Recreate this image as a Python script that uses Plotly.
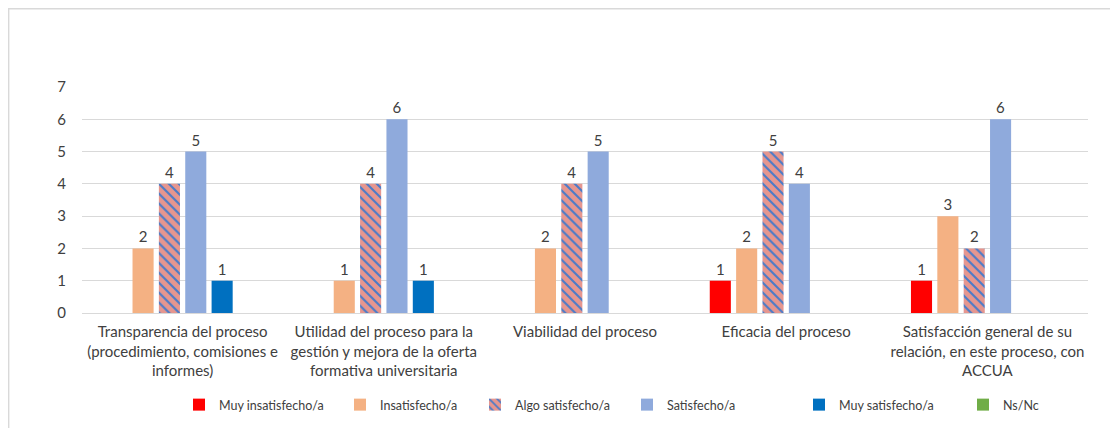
import plotly.graph_objects as go

categories = [
    "Transparencia del proceso<br>(procedimiento, comisiones e<br>informes)",
    "Utilidad del proceso para la<br>gestión y mejora de la oferta<br>formativa universitaria",
    "Viabilidad del proceso",
    "Eficacia del proceso",
    "Satisfacción general de su<br>relación, en este proceso, con<br>ACCUA",
]
series_names = ["Muy insatisfecho/a", "Insatisfecho/a", "Algo satisfecho/a",
                "Satisfecho/a", "Muy satisfecho/a", "Ns/Nc"]
muy_insatisfecho = [0, 0, 0, 1, 1]
insatisfecho = [2, 1, 2, 2, 3]
algo_satisfecho = [4, 4, 4, 5, 2]
satisfecho = [5, 6, 5, 4, 6]
muy_satisfecho = [1, 1, 0, 0, 0]
ns_nc = [0, 0, 0, 0, 0]
y_ticks = [0, 1, 2, 3, 4, 5, 6, 7]

values = [muy_insatisfecho, insatisfecho, algo_satisfecho, satisfecho, muy_satisfecho, ns_nc]
colors = ["#FF0000", "#F4B183", "#E6968F", "#8FAADC", "#0070C0", "#70AD47"]

FONT = "Lato, 'Noto Sans', sans-serif"
TXT = "#404040"

OFF = 8  # default page body margin
W, H = 1118, 428
# target page-pixel positions of the plot area
P_LEFT, P_RIGHT, P_TOP, P_ZERO = 82, 1088, 87, 313
L = P_LEFT - OFF
T = P_TOP - OFF
R = W - (P_RIGHT - OFF)
B = H - (P_ZERO - OFF)
pw, ph = W - L - R, H - T - B


def px_x(xp):
    return (xp - OFF - L) / pw


def px_y(yp):
    return (H - B - (yp - OFF)) / ph


fig = go.Figure()
legend_text_starts = [217, 378, 513, 665, 837, 1001]
legend_layout = {}
for i, (name, vals, col) in enumerate(zip(series_names, values, colors)):
    marker = dict(color=col, line=dict(width=0))
    if name == "Algo satisfecho/a":
        marker["pattern"] = dict(shape="\\", fgcolor="#4A7BC8", bgcolor=col,
                                 size=7, solidity=0.3, fillmode="replace")
    lg = "legend" if i == 0 else f"legend{i + 1}"
    fig.add_trace(go.Bar(
        name=name, x=categories, y=vals, marker=marker, legend=lg,
        text=[str(v) if v else "" for v in vals],
        textposition="outside", cliponaxis=False,
        textfont=dict(size=15, color=TXT, family=FONT),
    ))
    legend_layout[lg] = dict(
        x=px_x(legend_text_starts[i] - 38), xanchor="left",
        y=px_y(405), yanchor="middle", orientation="h",
        bgcolor="rgba(0,0,0,0)", borderwidth=0,
        font=dict(size=12.5, color=TXT, family=FONT), itemwidth=30,
    )

fig.add_shape(type="rect", xref="paper", yref="paper",
              x0=px_x(8.7), x1=px_x(1140), y0=px_y(8.7), y1=px_y(450),
              line=dict(color="#D9D9D9", width=1.4), fillcolor="rgba(0,0,0,0)", layer="below")

fig.update_layout(
    width=W, height=H,
    margin=dict(l=L, r=R, t=T, b=B, autoexpand=False),
    paper_bgcolor="white", plot_bgcolor="white",
    barmode="group", bargap=0.214, bargroupgap=0.2,
    font=dict(family=FONT, size=15, color=TXT),
    showlegend=True,
    xaxis=dict(showgrid=False, ticks="", showline=False, automargin=False,
               ticklabelstandoff=8,
               tickfont=dict(size=15, color=TXT, family=FONT)),
    yaxis=dict(range=[0, 7], tickvals=y_ticks, showgrid=True, gridcolor="#D9D9D9",
               gridwidth=1, zeroline=True, zerolinecolor="#D9D9D9", zerolinewidth=1,
               showline=False, ticks="", ticklabelstandoff=15, automargin=False,
               tickfont=dict(size=15, color=TXT, family=FONT)),
    **legend_layout,
)

fig.write_html("out.html")
